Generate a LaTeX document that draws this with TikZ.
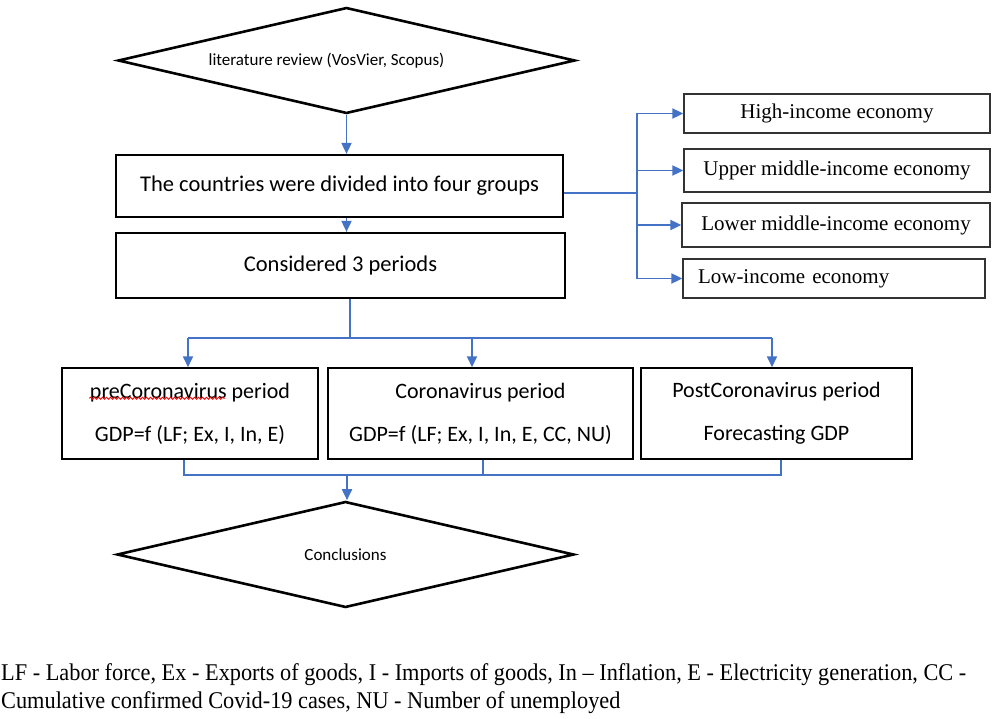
\documentclass[tikz,border=0pt]{standalone}
\usepackage{fontspec}
\setmainfont{Carlito}
\newfontfamily\tnr{Liberation Serif}
\newfontfamily\notefont[FakeStretch=0.93]{Liberation Serif}
\usetikzlibrary{shapes.geometric,arrows.meta,calc,decorations.pathmorphing}
\definecolor{arrowblue}{RGB}{68,114,196}
\begin{document}
\begin{tikzpicture}[x=1pt,y=-1pt,>={Triangle[length=11pt,width=10pt]},
  dia/.style={draw,diamond,aspect=4.3,line width=2.6pt,inner sep=0pt,minimum width=457pt,minimum height=106pt,font=\fontsize{17}{20}\selectfont},
  bigbox/.style={draw,line width=2.2pt,inner sep=0pt,font=\fontsize{22.5}{27}\selectfont},
  incbox/.style={draw=black!80,line width=1.3pt,inner sep=0pt,minimum width=306pt,font=\tnr\fontsize{21}{25}\selectfont},
  perbox/.style={draw,line width=1.5pt,inner sep=0pt,minimum height=91pt,align=center,font=\fontsize{22}{43}\selectfont},
  link/.style={arrowblue,line width=1.8pt}]
\useasboundingbox (0,0) rectangle (995,719);
\node[dia](lit) at (346.5,60.5){literature review (VosVier, Scopus)\hspace*{40pt}};
\node[bigbox,minimum width=447pt,minimum height=62pt](grp) at (339.5,186){The countries were divided into four groups};
\node[bigbox,minimum width=449pt,minimum height=65pt](per) at (340.5,265.5){Considered 3 periods};
\node[incbox,minimum height=39pt](hi) at (837,113.5){High-income economy};
\node[incbox,minimum height=43pt](up) at (837,170.5){Upper middle-income economy};
\node[incbox,minimum width=308pt,minimum height=44pt](lo) at (836,225){Lower middle-income economy};
\node[incbox,minimum width=302pt,minimum height=39pt,text width=272pt,align=left](low) at (834,278.5){Low-income economy};
\node[perbox,minimum width=256pt](pre) at (190,413.5){preCoronavirus period\\GDP=f (LF; Ex, I, In, E)};
\node[perbox,minimum width=305pt](cor) at (480.5,413.5){Coronavirus period\\GDP=f (LF; Ex, I, In, E, CC, NU)};
\node[perbox,minimum width=271pt](post) at (776.5,413.5){PostCoronavirus period\\Forecasting GDP};
\node[dia](con) at (345.5,554.5){Conclusions};
\node[anchor=north west,inner sep=0pt,align=left,font=\notefont\fontsize{24}{28}\selectfont](note) at (1,663){LF - Labor force, Ex - Exports of goods, I - Imports of goods, In – Inflation, E - Electricity generation, CC -\\Cumulative confirmed Covid-19 cases, NU - Number of unemployed};

\draw[red,line width=0.8pt,decorate,decoration={snake,amplitude=1pt,segment length=4pt}]($(pre.north west)+(28,31)$)--++(136,0);

\draw[link,->](lit.south)--(lit.south |- grp.north);
\draw[link,->](lit.south |- grp.south)--(lit.south |- per.north);
\coordinate (g0) at ([yshift=-7pt]grp.east);
\coordinate (fork) at (637,193);
\draw[link](g0)--(fork);
\draw[link](fork |- hi.west)--(fork |- low.west);
\foreach \b in {hi,up,lo,low}
  \draw[link,->](fork |- \b.west)--(\b.west);

\coordinate (p0) at (350,338);
\coordinate (s1) at (188,338);
\coordinate (s2) at (472,338);
\coordinate (s3) at (772,338);
\draw[link](per.south -| p0)--(p0);
\draw[link](s1)--(s3);
\draw[link,->](s1)--(s1 |- pre.north);
\draw[link,->](s2)--(s2 |- cor.north);
\draw[link,->](s3)--(s3 |- post.north);

\coordinate (m0) at (347,475);
\coordinate (m1) at (184,475);
\coordinate (m2) at (483,475);
\coordinate (m3) at (781,475);
\draw[link](m1 |- pre.south)--(m1)--(m3)--(m3 |- post.south);
\draw[link](m2 |- cor.south)--(m2);
\draw[link,->](m0)--(m0 |- con.north);
\end{tikzpicture}
\end{document}
